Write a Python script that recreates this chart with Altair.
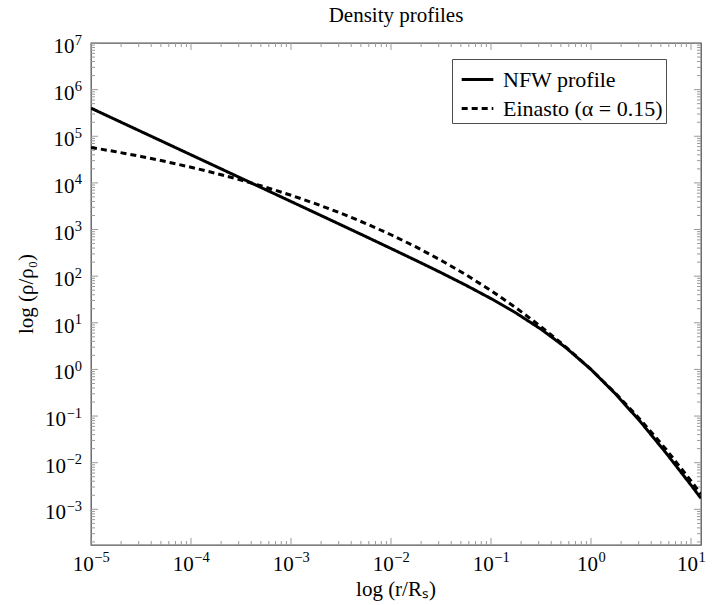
import altair as alt
import pandas as pd

# Radius in units of the scale radius, r / R_s
r_over_rs = [1.0e-5, 1.778e-5, 3.162e-5, 5.623e-5,
             1.0e-4, 1.778e-4, 3.162e-4, 5.623e-4,
             1.0e-3, 1.778e-3, 3.162e-3, 5.623e-3,
             0.01, 0.01778, 0.03162, 0.05623,
             0.1, 0.1778, 0.3162, 0.5623,
             1.0, 1.778, 3.162, 5.623,
             10.0, 12.59]

# Density rho / rho_0 for each profile
nfw = [4.0e5, 2.249e5, 1.265e5, 7.113e4,
       3.999e4, 2.249e4, 1.264e4, 7106.0,
       3992.0, 2242.0, 1257.0, 703.4,
       392.1, 217.1, 118.9, 63.76,
       33.06, 16.21, 7.301, 2.914,
       1.0, 0.2914, 0.07301, 0.01621,
       0.003306, 0.001721]

einasto = [5.766e4, 4.656e4, 3.688e4, 2.860e4,
           2.168e4, 1.603e4, 1.153e4, 8053.0,
           5445.0, 3554.0, 2232.0, 1344.0,
           773.4, 423.3, 219.5, 107.2,
           49.11, 20.96, 8.287, 3.013,
           1.0, 0.3005, 0.0810, 0.0194,
           0.004085, 0.002107]

profiles = ["NFW profile", "Einasto (\u03b1 = 0.15)"]

# Decade ticks and their exponents
x_major = [1e-5, 1e-4, 1e-3, 1e-2, 1e-1, 1e0, 1e1]
x_exp = ["\u22125", "\u22124", "\u22123", "\u22122", "\u22121", "0", "1"]
y_major = [1e-3, 1e-2, 1e-1, 1e0, 1e1, 1e2, 1e3, 1e4, 1e5, 1e6, 1e7]
y_exp = ["\u22123", "\u22122", "\u22121", "0", "1", "2", "3", "4", "5", "6", "7"]

X_TITLE = "log (r/Rₛ)"
Y_TITLE = "log (ρ/ρ₀)"
TITLE = "Density profiles"

X_DOMAIN = [1e-5, 10 ** 1.1]
Y_DOMAIN = [10 ** -3.765, 1e7]
x_minor = [m * 10.0 ** k for k in range(-5, 1) for m in range(2, 10)]
y_minor = [m * 10.0 ** k for k in range(-4, 7) for m in range(2, 10)
           if m * 10.0 ** k >= Y_DOMAIN[0]]

n = len(r_over_rs)
df = pd.DataFrame({
    "r": r_over_rs * 2,
    "rho": nfw + einasto,
    "profile": [profiles[0]] * n + [profiles[1]] * n,
})

W, H = 610, 502
FONT = "Liberation Serif"
FS = 21
SUP_FS = 14.5
TICK = "#9a9a9a"

xs = alt.Scale(type="log", domain=X_DOMAIN, nice=False)
ys = alt.Scale(type="log", domain=Y_DOMAIN, nice=False)

lines = alt.Chart(df).mark_line(color="black", strokeWidth=3, clip=True).encode(
    x=alt.X("r:Q", scale=xs, axis=None),
    y=alt.Y("rho:Q", scale=ys, axis=None),
    strokeDash=alt.StrokeDash(
        "profile:N",
        scale=alt.Scale(domain=profiles, range=[[1, 0], [6, 4]]),
        legend=alt.Legend(title=None, orient="none", legendX=361, legendY=16,
                          direction="vertical", strokeColor="#4d4d4d",
                          fillColor="white", padding=3, symbolOffset=5,
                          labelFont=FONT, labelFontSize=22, labelColor="black",
                          symbolType="stroke", symbolStrokeWidth=3,
                          symbolSize=1000, symbolStrokeColor="black",
                          labelOffset=8, rowPadding=-9),
    ),
)


def tick_rules(values, channel, far_side, length):
    t = alt.Chart(pd.DataFrame({"v": values})).mark_rule(color=TICK, strokeWidth=1)
    if channel == "x":
        edge = H if far_side else 0
        tip = H - length if far_side else length
        return t.encode(x=alt.X("v:Q", scale=xs, axis=None),
                        y=alt.value(edge), y2=alt.value(tip))
    edge = W if far_side else 0
    tip = W - length if far_side else length
    return t.encode(y=alt.Y("v:Q", scale=ys, axis=None),
                    x=alt.value(edge), x2=alt.value(tip))


# Inward ticks on all four sides of the frame
ticks = [
    tick_rules(vals, ch, side, size)
    for ch, major, minor in (("x", x_major, x_minor), ("y", y_major, y_minor))
    for vals, size in ((major, 7), (minor, 4))
    for side in (False, True)
]

xl = pd.DataFrame({"v": x_major, "exp": x_exp})
yl = pd.DataFrame({"v": y_major, "exp": y_exp})


def x_labels(sub, shift):
    base = alt.Chart(sub).encode(x=alt.X("v:Q", scale=xs, axis=None))
    ten = base.mark_text(text="10", align="right", baseline="alphabetic", dx=shift,
                         font=FONT, fontSize=FS, color="black").encode(y=alt.value(H + 26))
    sup = base.mark_text(align="left", baseline="alphabetic", dx=shift + 0.5,
                         font=FONT, fontSize=SUP_FS, color="black").encode(
        y=alt.value(H + 17), text="exp:N")
    return [ten, sup]


def y_labels(sub, sup_width):
    base = alt.Chart(sub).encode(y=alt.Y("v:Q", scale=ys, axis=None))
    ten = base.mark_text(text="10", align="right", baseline="alphabetic", dy=10,
                         font=FONT, fontSize=FS, color="black").encode(
        x=alt.value(-9 - sup_width))
    sup = base.mark_text(align="right", baseline="alphabetic", dy=1.5,
                         font=FONT, fontSize=SUP_FS, color="black").encode(
        x=alt.value(-9), text="exp:N")
    return [ten, sup]


neg_x = xl[xl["exp"].str.startswith("\u2212")]
pos_x = xl[~xl["exp"].str.startswith("\u2212")]
neg_y = yl[yl["exp"].str.startswith("\u2212")]
pos_y = yl[~yl["exp"].str.startswith("\u2212")]

labels = (x_labels(neg_x, 2.8) + x_labels(pos_x, 6.9)
          + y_labels(neg_y, 16) + y_labels(pos_y, 7.5))

# Axis titles
x_title = alt.Chart(pd.DataFrame({"t": [X_TITLE]})).mark_text(
    align="center", baseline="alphabetic", font=FONT, fontSize=FS, color="black"
).encode(text="t:N", x=alt.value(W / 2), y=alt.value(H + 51))
y_title = alt.Chart(pd.DataFrame({"t": [Y_TITLE]})).mark_text(
    align="center", baseline="alphabetic", angle=270, font=FONT, fontSize=FS,
    color="black"
).encode(text="t:N", x=alt.value(-58), y=alt.value(H / 2))

chart = alt.layer(*ticks, *labels, x_title, y_title, lines).properties(
    width=W, height=H, autosize="none",
    padding={"left": 91, "top": 43, "right": 19, "bottom": 60},
    title=alt.Title(TITLE, font=FONT, fontSize=FS, fontWeight="normal",
                    color="black", anchor="middle", offset=7),
    background="white",
).configure_view(stroke="#555555", strokeWidth=1.3)

chart.save("out.html", embed_options={"renderer": "svg", "actions": False})
